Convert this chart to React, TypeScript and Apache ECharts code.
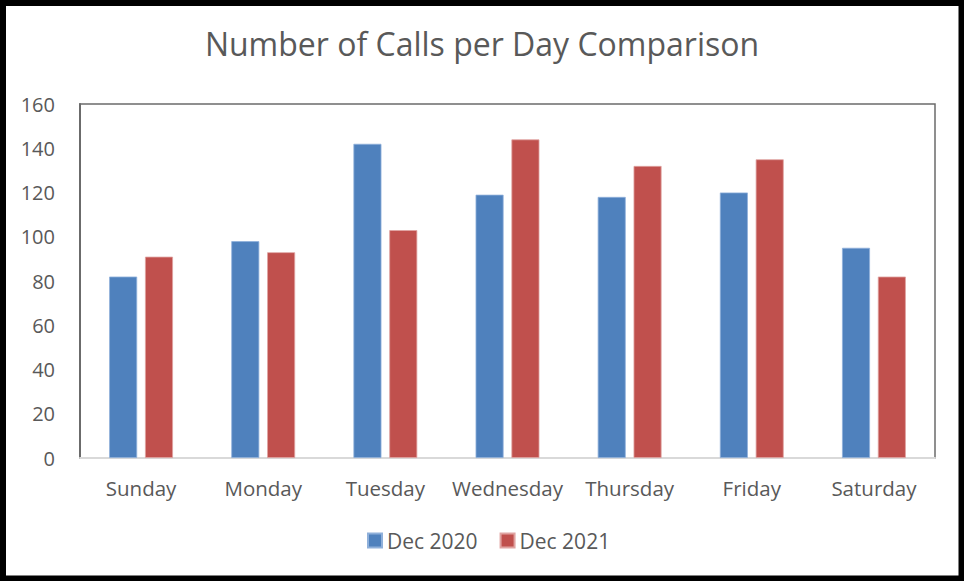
import React, { useEffect, useRef } from "react";
import * as echarts from "echarts";

const days = ["Sunday", "Monday", "Tuesday", "Wednesday", "Thursday", "Friday", "Saturday"];
const dec2020 = [82, 98, 142, 119, 118, 120, 95];
const dec2021 = [91, 93, 103, 144, 132, 135, 82];
const seriesNames = ["Dec 2020", "Dec 2021"];
const titleText = "Number of Calls per Day Comparison";

const FONT = "'Open Sans', 'Noto Sans', sans-serif";
const TEXT = "#595959";

export default function App() {
  const ref = useRef<HTMLDivElement>(null);
  useEffect(() => {
    if (!ref.current) return;
    const chart = echarts.init(ref.current, undefined, { renderer: "svg" });
    chart.setOption({
      animation: false,
      backgroundColor: "#ffffff",
      title: {
        text: titleText,
        left: "center",
        top: 22,
        textStyle: { fontFamily: FONT, fontSize: 32, fontWeight: "normal", color: TEXT },
      },
      legend: {
        bottom: 30,
        left: 367,
        padding: 0,
        itemWidth: 14,
        itemHeight: 14,
        itemGap: 22,
        icon: "rect",
        data: seriesNames,
        textStyle: { fontFamily: FONT, fontSize: 21, color: TEXT },
      },
      grid: {
        left: 80,
        right: 29,
        top: 104,
        bottom: 123,
        show: true,
        borderColor: "#6b6b6b",
        borderWidth: 1.5,
      },
      xAxis: {
        type: "category",
        data: days,
        axisLine: { show: true, lineStyle: { color: "#d9d9d9", width: 2 } },
        axisTick: { show: false },
        axisLabel: { fontFamily: FONT, fontSize: 20.5, color: TEXT, margin: 19, interval: 0 },
      },
      yAxis: {
        type: "value",
        min: 0,
        max: 160,
        interval: 20,
        axisLine: { show: true, lineStyle: { color: "#6b6b6b", width: 2 } },
        axisTick: { show: false },
        splitLine: { show: false },
        axisLabel: { fontFamily: FONT, fontSize: 20, color: TEXT, margin: 25 },
      },
      series: [
        {
          name: seriesNames[0],
          type: "bar",
          data: dec2020,
          barWidth: 28,
          barGap: "28%",
          itemStyle: { color: "#4F81BD", borderColor: "#8fb0da", borderWidth: 0.8 },
        },
        {
          name: seriesNames[1],
          type: "bar",
          data: dec2021,
          barWidth: 28,
          barGap: "28%",
          itemStyle: { color: "#C0504D", borderColor: "#e0a3a1", borderWidth: 0.8 },
        },
      ],
      graphic: [
        {
          type: "rect",
          shape: { x: 3, y: 3, width: 958.5, height: 575.5 },
          style: { fill: "none", stroke: "#000", lineWidth: 6 },
          z: 100,
        },
      ],
    });
    return () => chart.dispose();
  }, []);
  return (
    <div
      ref={ref}
      style={{ position: "fixed", left: 0, top: 0, width: 964, height: 581 }}
    />
  );
}
